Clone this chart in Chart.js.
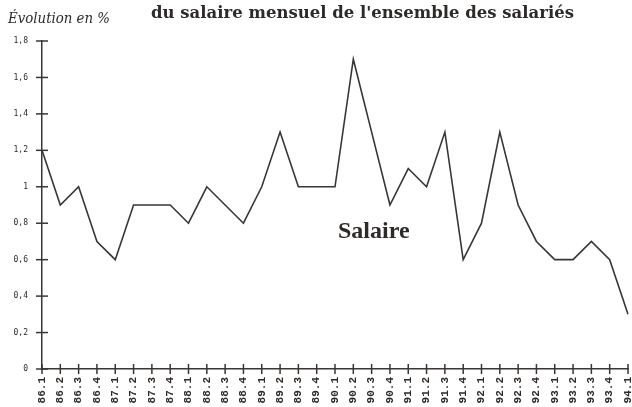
<!DOCTYPE html>
<html>
<head>
<meta charset="utf-8">
<script src="https://cdn.jsdelivr.net/npm/chart.js@4"></script>
<style>
  body { margin: 0; background: #fff; }
  #wrap { width: 632px; height: 407px; position: relative; }
</style>
</head>
<body>
<div id="wrap"><canvas id="lineChart"></canvas></div>
<script>
const quarters = [
  "86.1","86.2","86.3","86.4","87.1","87.2","87.3","87.4",
  "88.1","88.2","88.3","88.4","89.1","89.2","89.3","89.4",
  "90.1","90.2","90.3","90.4","91.1","91.2","91.3","91.4",
  "92.1","92.2","92.3","92.4","93.1","93.2","93.3","93.4","94.1"
];
const salaire = [
  1.2, 0.9, 1.0, 0.7, 0.6, 0.9, 0.9, 0.9,
  0.8, 1.0, 0.9, 0.8, 1.0, 1.3, 1.0, 1.0,
  1.0, 1.7, 1.3, 0.9, 1.1, 1.0, 1.3, 0.6,
  0.8, 1.3, 0.9, 0.7, 0.6, 0.6, 0.7, 0.6, 0.3
];
const titleText = "du salaire mensuel de l'ensemble des salariés";
const unitText = "Évolution en %";
const seriesName = "Salaire";

const ink = '#3a3633';

// draw text squeezed/stretched to a given width
function fitText(ctx, txt, x, y, w) {
  const m = ctx.measureText(txt).width;
  ctx.save();
  ctx.translate(x, y);
  ctx.scale(w / m, 1);
  ctx.fillText(txt, 0, 0);
  ctx.restore();
}

// tick marks crossing the axes + free texts
const decorations = {
  id: 'decorations',
  afterDraw(chart) {
    const ctx = chart.ctx;
    const x = chart.scales.x, y = chart.scales.y;
    ctx.save();
    ctx.strokeStyle = ink;
    ctx.lineWidth = 1.5;
    y.ticks.forEach((t, i) => {
      const py = y.getPixelForTick(i);
      ctx.beginPath(); ctx.moveTo(x.left - 6, py); ctx.lineTo(x.left + 6, py); ctx.stroke();
    });
    x.ticks.forEach((t, i) => {
      const px = x.getPixelForTick(i);
      ctx.beginPath(); ctx.moveTo(px, y.bottom - 5); ctx.lineTo(px, y.bottom + 5); ctx.stroke();
    });
    ctx.fillStyle = '#2e2a28';
    ctx.textAlign = 'left';
    ctx.textBaseline = 'alphabetic';
    ctx.font = 'bold 17px "DejaVu Serif"';
    fitText(ctx, titleText, 151, 18, 423);
    ctx.font = 'italic 14px "DejaVu Serif"';
    fitText(ctx, unitText, 8, 23, 102);
    ctx.font = 'bold 24px "Liberation Serif"';
    ctx.fillText(seriesName, 338, 238);
    ctx.restore();
  }
};

new Chart(document.getElementById('lineChart'), {
  type: 'line',
  data: {
    labels: quarters,
    datasets: [{
      label: seriesName,
      data: salaire,
      borderColor: ink,
      borderWidth: 1.6,
      pointRadius: 0,
      tension: 0,
      fill: false
    }]
  },
  options: {
    responsive: true,
    maintainAspectRatio: false,
    animation: false,
    layout: { padding: { top: 41, right: 4, left: 0, bottom: 0 } },
    plugins: { legend: { display: false }, title: { display: false }, tooltip: { enabled: false } },
    scales: {
      x: {
        offset: false,
        grid: { display: false, drawTicks: false },
        border: { display: true, color: ink, width: 1.5 },
        ticks: {
          autoSkip: false, maxRotation: 90, minRotation: 90, padding: 8,
          color: '#2e2a28', font: { family: 'Liberation Mono', size: 11, weight: 'bold' }
        },
        afterFit(scale) {
          scale.height = 38;
          scale.paddingLeft = 0;
          scale.paddingRight = 0;
        }
      },
      y: {
        min: 0, max: 1.8,
        grid: { display: false, drawTicks: false },
        border: { display: true, color: ink, width: 1.5 },
        ticks: {
          stepSize: 0.2, padding: 14,
          color: '#2e2a28', font: { family: 'DejaVu Sans Mono', size: 8 },
          callback: v => String(Math.round(v * 10) / 10).replace('.', ',')
        },
        afterFit(scale) {
          scale.width = 42;
          scale.paddingTop = 0;
          scale.paddingBottom = 0;
        }
      }
    }
  },
  plugins: [decorations]
});
</script>
</body>
</html>
